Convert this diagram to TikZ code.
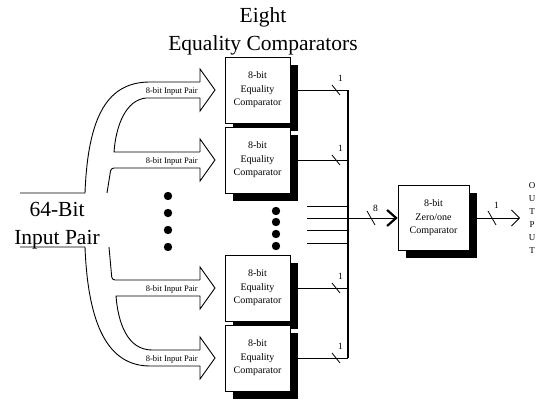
\documentclass[tikz,border=0pt]{standalone}
\usepackage{fontspec}
\setmainfont{Liberation Serif}
\usetikzlibrary{arrows.meta,shadows,positioning,calc}
\tikzstyle{comparator}=[draw,fill=white,line width=0.5pt,minimum width=65pt,minimum height=66pt,inner sep=0pt,align=center,font=\fontsize{10}{13.5}\selectfont,drop shadow={shadow xshift=8pt,shadow yshift=-8pt,opacity=1,fill=black}]
\tikzstyle{wire}=[line width=0.8pt]
\tikzstyle{bus}=[line width=1.6pt]
\tikzstyle{fatarrow}=[line width=0.9pt]
\tikzstyle{pairlabel}=[anchor=east,inner sep=0pt,font=\fontsize{8.5}{10}\selectfont]
\tikzstyle{widthlabel}=[inner sep=0pt,font=\fontsize{9.5}{10}\selectfont]
\newcommand{\drawslash}[2][5]{
  \draw[wire] ($(#2)+(-4,-#1)$) -- ($(#2)+(4,#1)$);
}
% head of one fat arrow, centred on height #1
\newcommand{\drawhead}[1]{
  \pgfmathsetmacro{\yc}{#1}
  \draw[fatarrow,line join=miter] (200,\yc-8) -- (200,\yc-21) -- (215,\yc) -- (200,\yc+21) -- (200,\yc+8);
}

\begin{document}
\begin{tikzpicture}[x=1pt,y=-1pt]
\useasboundingbox (0,0) rectangle (539,403);

\node[font=\fontsize{21.5}{28}\selectfont,align=center] (title) at (263,31) {Eight\\Equality Comparators};
\node[font=\fontsize{21.5}{28}\selectfont,align=center] (inpair) at (57,226) {64-Bit\\Input Pair};

% the 64-bit channel fanning out
\draw[fatarrow] (20,193) -- (85,193) .. controls (88,115) and (108,82) .. (150,82) -- (200,82);
\draw[fatarrow] (200,98) -- (146,98) .. controls (126,100) and (116,125) .. (114,152) -- (200,152);
\draw[fatarrow,rounded corners=3pt] (200,168) -- (111,168) -- (107,193);
\draw[fatarrow,rounded corners=3pt] (109,247) -- (112,280) -- (200,280);
\draw[fatarrow] (200,296) -- (116,296) .. controls (118,322) and (127,350) .. (152,350) -- (200,350);
\draw[fatarrow] (20,247) -- (85,247) .. controls (88,325) and (108,366) .. (150,366) -- (200,366);

\foreach \i/\y in {1/90,2/160,3/288,4/358} {
  \node[comparator] (cmp\i) at (257.5,\y) {8-bit\\Equality\\Comparator};
  \drawhead{\y}
  \node[pairlabel] (pair\i) at (198,\y+1) {8-bit Input Pair};
  \coordinate (tap\i) at ($(cmp\i.east)+(8,0)$);
  \coordinate (join\i) at (348,\y);
  \draw[wire] (tap\i) -- (join\i);
  \coordinate (cut\i) at (336,\y);
  \drawslash{cut\i}
  \node[widthlabel,above right=8pt and 2pt of cut\i] (one\i) {1};
}

\foreach \y in {196,213,230,247} \fill (168,\y) circle (4.2pt);
\foreach \y in {211,222,234,246} \fill (276,\y) circle (4.2pt);

\draw[bus] (join1) -- (join4);
\foreach \i/\y in {1/206,2/218,3/230,4/243} {
  \coordinate (mid\i) at (307,\y);
  \coordinate (midjoin\i) at (348,\y);
  \draw[wire] (mid\i) -- (midjoin\i);
}

\node[comparator,minimum width=71pt,minimum height=65pt] (zero) at (433.5,218) {8-bit\\Zero/one\\Comparator};
\draw[wire,-{Straight Barb[length=9pt,width=16pt,line width=2.2pt]}] (midjoin2) -- (zero.west);
\coordinate (cut8) at (371,218);
\drawslash[7]{cut8}
\node[widthlabel,above right=6pt and 2pt of cut8] (eight) {8};

\coordinate (zerotap) at ($(zero.east)+(8,0)$);
\coordinate (outend) at (520,218);
\draw[wire,-{Straight Barb[length=8pt,width=16pt]}] (zerotap) -- (outend);
\coordinate (cutout) at (492,218);
\drawslash[7]{cutout}
\node[widthlabel,above right=9pt and 2pt of cutout] (oneout) {1};
\node[font=\fontsize{9}{13}\selectfont,align=center] (output) at (532,218) {O\\U\\T\\P\\U\\T};
\end{tikzpicture}
\end{document}
